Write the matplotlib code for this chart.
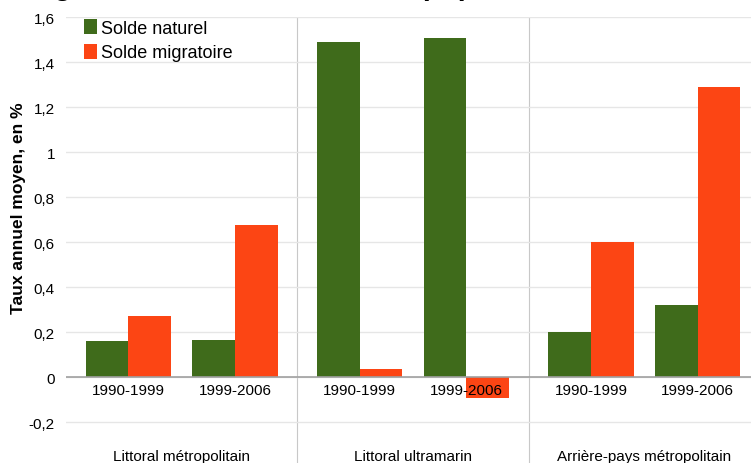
import matplotlib.pyplot as plt
import numpy as np

plt.rcParams['font.family'] = ['Liberation Sans', 'DejaVu Sans']

# data
groups = ['Littoral métropolitain', 'Littoral ultramarin', 'Arrière-pays métropolitain']
periods = ['1990-1999', '1999-2006']
solde_naturel = [0.16, 0.165, 1.49, 1.505, 0.20, 0.32]
solde_migratoire = [0.27, 0.675, 0.035, -0.095, 0.60, 1.29]
yticks = [-0.2, 0, 0.2, 0.4, 0.6, 0.8, 1, 1.2, 1.4, 1.6]

green = '#3f6b1b'
orange = '#fc4514'

fig = plt.figure(figsize=(7.51, 4.64), dpi=100)
# axes go a bit past the right/bottom edge, as the original is cropped
ax = fig.add_axes([66/751, 0/464, (760-66)/751, (464-18)/464])

gpitch = 2.17
x = np.array([g*gpitch + p for g in range(3) for p in range(2)])
w = 0.4
ax.bar(x - w/2, solde_naturel, w, color=green, label='Solde naturel', zorder=2)
ax.bar(x + w/2, solde_migratoire, w, color=orange, label='Solde migratoire', zorder=2)

ax.set_ylim(-0.382, 1.6)
ax.set_xlim(x[0] - 0.585, x[-1] + 0.585)
ax.set_yticks(yticks)
ax.set_yticklabels([('%g' % t).replace('.', ',') for t in yticks], fontsize=11)
ax.set_xticks([])
ax.grid(axis='y', color='#e6e6e6', lw=1, zorder=0)
ax.axhline(0, color='#a0a0a0', lw=1.2, zorder=3)
for s in ax.spines.values():
    s.set_visible(False)
ax.tick_params(axis='y', length=0, pad=8)

# separators between groups
for g in range(1, 3):
    ax.axvline(g*gpitch - (gpitch - 1)/2, color='#c8c8c8', lw=0.8, zorder=1)

for xi, lab in zip(x, periods*3):
    ax.text(xi, -0.025, lab, ha='center', va='top', fontsize=11, zorder=4)
for g, name in enumerate(groups):
    ax.text(g*gpitch + 0.5, -0.35, name, ha='center', va='center', fontsize=11)

ax.set_ylabel('Taux annuel moyen, en %', fontsize=12.5, fontweight='bold')
ax.yaxis.set_label_coords(-0.057, 0.574)

ax.legend(loc='upper left', bbox_to_anchor=(16/694, 1.0), frameon=False, fontsize=13,
          handlelength=0.75, handleheight=0.9, handletextpad=0.2, labelspacing=0.4,
          borderaxespad=0.0, borderpad=0.1)

# title, mostly cut off by the top edge as in the original
fig.text(13/751, 1 + 5/464, 'Origine de la croissance de la population', fontsize=20.5,
         fontweight='bold', va='baseline', ha='left')

fig.savefig('out.png', dpi=100)
